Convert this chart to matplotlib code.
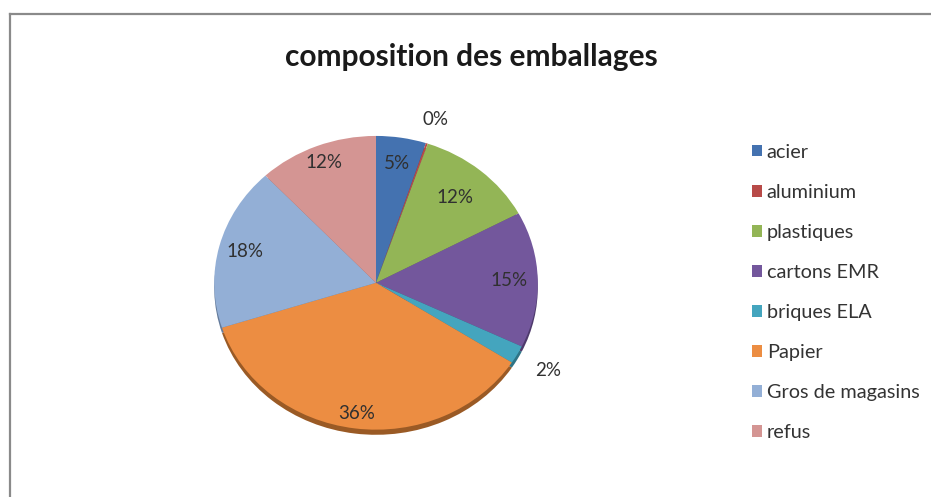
import matplotlib
matplotlib.use("Agg")
import matplotlib.pyplot as plt
import numpy as np
from matplotlib.lines import Line2D

categories = ["acier", "aluminium", "plastiques", "cartons EMR", "briques ELA",
              "Papier", "Gros de magasins", "refus"]
values = [5, 0.2, 12, 15, 2, 36, 18, 12]
colors = ["#4472B0", "#B84A48", "#93B556", "#73579C", "#44A5BE",
          "#EC8D42", "#93AFD6", "#D49593"]
shadow_colors = ["#2E5080", "#803030", "#65803A", "#4E3A6C", "#2E7486",
                 "#9A5A25", "#637A9A", "#946462"]
label_dist = [0.82, 1.17, 0.76, 0.82, 1.22, 0.9, 0.84, 0.88]
title = "composition des emballages"

plt.rcParams['font.family'] = ['Lato', 'DejaVu Sans']

fig = plt.figure(figsize=(9.31, 4.97), dpi=100)
W, H = 931, 497

# frame of the chart area
fig.add_artist(Line2D([9.5 / W, 9.5 / W], [0, 1 - 13.5 / H], transform=fig.transFigure,
                      color="#8a8a8a", lw=1.6))
fig.add_artist(Line2D([9.5 / W, 1], [1 - 13.5 / H, 1 - 13.5 / H], transform=fig.transFigure,
                      color="#8a8a8a", lw=1.6))

ax = fig.add_axes([211 / W, 1 - 437 / H, 330 / W, 304 / H])
ax.axis('off')

# shadow (slight 3D depth)
ax.pie(values, colors=shadow_colors, startangle=90, counterclock=False,
       radius=1.0, center=(0, -0.035), wedgeprops=dict(linewidth=0))
wedges, _ = ax.pie(values, colors=colors, startangle=90, counterclock=False,
                   radius=1.0, wedgeprops=dict(linewidth=0))
ax.set_xlim(-1.02, 1.02)
ax.set_ylim(-1.05, 1.02)
ax.set_aspect('auto')

total = sum(values)
for w, v, d in zip(wedges, values, label_dist):
    ang = np.deg2rad((w.theta1 + w.theta2) / 2)
    x, y = d * np.cos(ang), d * np.sin(ang)
    ax.text(x, y, f"{v / total * 100:.0f}%", ha='center', va='center',
            fontsize=13.5, color="#303030")

fig.text(471 / W, 1 - 57 / H, title, ha='center', va='center',
         fontsize=21.5, fontweight='bold', color="#1a1a1a")

leg = fig.legend(wedges, categories, loc='upper left',
                 bbox_to_anchor=(734 / W, 1 - 126 / H), frameon=False,
                 fontsize=14.3, handlelength=0.5, handleheight=0.5,
                 handletextpad=0.25, labelspacing=1.16, labelcolor="#333333")

fig.savefig("out.png", dpi=100, facecolor="white")
